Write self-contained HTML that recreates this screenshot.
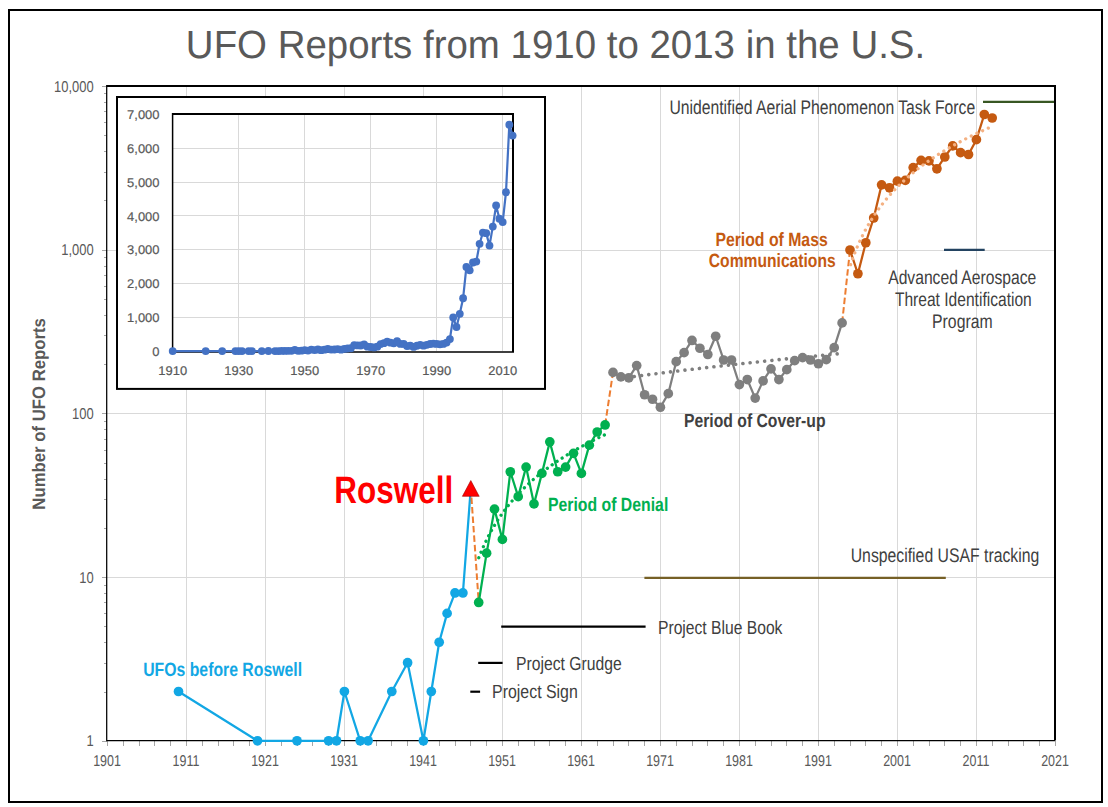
<!DOCTYPE html><html><head><meta charset="utf-8"><style>html,body{margin:0;padding:0;background:#fff;overflow:hidden}svg{display:block}text{font-family:"Liberation Sans",sans-serif;text-rendering:geometricPrecision}</style></head><body>
<svg width="1108" height="807" viewBox="0 0 1108 807">
<rect width="1108" height="807" fill="#fff"/>
<path d="M107,577.5 H1055 M107,413.5 H1055 M107,250.5 H1055 M186.5,86 V740 M265.5,86 V740 M344.5,86 V740 M423.5,86 V740 M502.5,86 V740 M581.5,86 V740 M660.5,86 V740 M739.5,86 V740 M818.5,86 V740 M897.5,86 V740 M976.5,86 V740" stroke="#D9D9D9" stroke-width="1" fill="none"/>
<path d="M102,741.5 H107 M104,692.5 H107 M104,663.5 H107 M104,642.5 H107 M104,626.5 H107 M104,613.5 H107 M104,602.5 H107 M104,593.5 H107 M104,585.5 H107 M102,577.5 H107 M104,528.5 H107 M104,499.5 H107 M104,479.5 H107 M104,463.5 H107 M104,450.5 H107 M104,439.5 H107 M104,429.5 H107 M104,421.5 H107 M102,413.5 H107 M104,364.5 H107 M104,335.5 H107 M104,315.5 H107 M104,299.5 H107 M104,286.5 H107 M104,275.5 H107 M104,266.5 H107 M104,257.5 H107 M102,250.5 H107 M104,200.5 H107 M104,172.5 H107 M104,151.5 H107 M104,135.5 H107 M104,122.5 H107 M104,111.5 H107 M104,102.5 H107 M104,93.5 H107 M102,86.5 H107 M107.5,741 V746 M123.5,741 V746 M139.5,741 V746 M154.5,741 V746 M170.5,741 V746 M186.5,741 V746 M202.5,741 V746 M218.5,741 V746 M233.5,741 V746 M249.5,741 V746 M265.5,741 V746 M281.5,741 V746 M297.5,741 V746 M312.5,741 V746 M328.5,741 V746 M344.5,741 V746 M360.5,741 V746 M376.5,741 V746 M391.5,741 V746 M407.5,741 V746 M423.5,741 V746 M439.5,741 V746 M455.5,741 V746 M470.5,741 V746 M486.5,741 V746 M502.5,741 V746 M518.5,741 V746 M534.5,741 V746 M549.5,741 V746 M565.5,741 V746 M581.5,741 V746 M597.5,741 V746 M613.5,741 V746 M628.5,741 V746 M644.5,741 V746 M660.5,741 V746 M676.5,741 V746 M692.5,741 V746 M707.5,741 V746 M723.5,741 V746 M739.5,741 V746 M755.5,741 V746 M771.5,741 V746 M786.5,741 V746 M802.5,741 V746 M818.5,741 V746 M834.5,741 V746 M850.5,741 V746 M865.5,741 V746 M881.5,741 V746 M897.5,741 V746 M913.5,741 V746 M929.5,741 V746 M944.5,741 V746 M960.5,741 V746 M976.5,741 V746 M992.5,741 V746 M1008.5,741 V746 M1023.5,741 V746 M1039.5,741 V746 M1055.5,741 V746" stroke="#A6A6A6" stroke-width="1" fill="none"/>
<path d="M107,86 H1055 V740.5" stroke="#000" stroke-width="2" fill="none"/>
<path d="M106.7,85 V740.5 H1055" stroke="#000" stroke-width="1.25" fill="none"/>
<g font-size="15.6px" fill="#595959"><text transform="translate(93.6,746.4) scale(0.83,1)" text-anchor="end">1</text><text transform="translate(93.6,582.7) scale(0.83,1)" text-anchor="end">10</text><text transform="translate(93.6,419) scale(0.83,1)" text-anchor="end">100</text><text transform="translate(93.6,255.3) scale(0.83,1)" text-anchor="end">1,000</text><text transform="translate(93.6,91.6) scale(0.83,1)" text-anchor="end">10,000</text><text transform="translate(107,765.8) scale(0.80,1)" text-anchor="middle">1901</text><text transform="translate(186,765.8) scale(0.80,1)" text-anchor="middle">1911</text><text transform="translate(265,765.8) scale(0.80,1)" text-anchor="middle">1921</text><text transform="translate(344,765.8) scale(0.80,1)" text-anchor="middle">1931</text><text transform="translate(423,765.8) scale(0.80,1)" text-anchor="middle">1941</text><text transform="translate(502,765.8) scale(0.80,1)" text-anchor="middle">1951</text><text transform="translate(581,765.8) scale(0.80,1)" text-anchor="middle">1961</text><text transform="translate(660,765.8) scale(0.80,1)" text-anchor="middle">1971</text><text transform="translate(739,765.8) scale(0.80,1)" text-anchor="middle">1981</text><text transform="translate(818,765.8) scale(0.80,1)" text-anchor="middle">1991</text><text transform="translate(897,765.8) scale(0.80,1)" text-anchor="middle">2001</text><text transform="translate(976,765.8) scale(0.80,1)" text-anchor="middle">2011</text><text transform="translate(1055,765.8) scale(0.80,1)" text-anchor="middle">2021</text></g>
<g><rect x="117" y="97" width="428" height="291.9" fill="#fff" stroke="#000" stroke-width="2"/><path d="M173,317.5 H513 M173,283.5 H513 M173,249.5 H513 M173,215.5 H513 M173,182.5 H513 M173,148.5 H513 M173,114.5 H513 M238.5,114 V351 M304.5,114 V351 M370.5,114 V351 M436.5,114 V351 M502.5,114 V351" stroke="#D9D9D9" stroke-width="1" fill="none"/><path d="M172.5,114 H513 V352" stroke="#000" stroke-width="2" fill="none"/><path d="M172.6,113 V352 H514" stroke="#000" stroke-width="1.5" fill="none"/><g font-size="12.7px" fill="#595959" stroke="#595959" stroke-width="0.2"><text transform="translate(159.5,355.8) scale(1.02,1)" text-anchor="end">0</text><text transform="translate(159.5,322) scale(1.02,1)" text-anchor="end">1,000</text><text transform="translate(159.5,288.2) scale(1.02,1)" text-anchor="end">2,000</text><text transform="translate(159.5,254.4) scale(1.02,1)" text-anchor="end">3,000</text><text transform="translate(159.5,220.6) scale(1.02,1)" text-anchor="end">4,000</text><text transform="translate(159.5,186.8) scale(1.02,1)" text-anchor="end">5,000</text><text transform="translate(159.5,153) scale(1.02,1)" text-anchor="end">6,000</text><text transform="translate(159.5,119.2) scale(1.02,1)" text-anchor="end">7,000</text><text transform="translate(172.7,375) scale(1.02,1)" text-anchor="middle">1910</text><text transform="translate(238.7,375) scale(1.02,1)" text-anchor="middle">1930</text><text transform="translate(304.7,375) scale(1.02,1)" text-anchor="middle">1950</text><text transform="translate(370.7,375) scale(1.02,1)" text-anchor="middle">1970</text><text transform="translate(436.7,375) scale(1.02,1)" text-anchor="middle">1990</text><text transform="translate(502.7,375) scale(1.02,1)" text-anchor="middle">2010</text></g><polyline points="172.7,351.03 205.7,351.07 222.2,351.07 235.4,351.07 238.7,351.07 242,351.03 248.6,351.07 251.9,351.07 261.8,351.03 268.4,351 275,351.07 278.3,351.03 281.6,350.96 284.9,350.9 288.2,350.83 291.5,350.83 294.8,349.92 298.1,350.86 301.4,350.63 304.7,350.22 308,350.53 311.3,349.61 314.6,350.05 317.9,349.51 321.2,350.15 324.5,349.65 327.8,348.84 331.1,349.61 334.4,349.51 337.7,349.17 341,349.65 344.3,348.94 347.6,348.5 350.9,348.23 354.2,345.08 357.5,345.46 360.8,345.52 364.1,344.48 367.4,346.71 370.7,346.98 374,347.42 377.3,346.64 380.6,344.1 383.9,343.16 387.2,341.67 390.5,342.65 393.8,343.36 397.1,341.1 400.4,343.93 403.7,343.93 407,346.03 410.3,345.66 413.6,346.91 416.9,345.76 420.2,344.78 423.5,345.66 426.8,344.85 430.1,344 433.4,343.7 436.7,343.93 440,344.31 443.3,343.9 446.6,342.58 449.9,339.03 453.2,317.44 456.5,327 459.8,313.82 463.1,298.27 466.4,266.97 469.7,270.35 473,262.48 476.3,261.53 479.6,243.79 482.9,232.53 486.2,233.14 489.5,245.61 492.8,226.58 496.1,205.52 499.4,218.77 502.7,222.12 506,192.24 509.3,124.71 512.6,135.59" fill="none" stroke="#4472C4" stroke-width="2.2" stroke-linejoin="round"/><g fill="#4472C4"><circle cx="172.7" cy="351.03" r="3.9"/><circle cx="205.7" cy="351.07" r="3.9"/><circle cx="222.2" cy="351.07" r="3.9"/><circle cx="235.4" cy="351.07" r="3.9"/><circle cx="238.7" cy="351.07" r="3.9"/><circle cx="242" cy="351.03" r="3.9"/><circle cx="248.6" cy="351.07" r="3.9"/><circle cx="251.9" cy="351.07" r="3.9"/><circle cx="261.8" cy="351.03" r="3.9"/><circle cx="268.4" cy="351" r="3.9"/><circle cx="275" cy="351.07" r="3.9"/><circle cx="278.3" cy="351.03" r="3.9"/><circle cx="281.6" cy="350.96" r="3.9"/><circle cx="284.9" cy="350.9" r="3.9"/><circle cx="288.2" cy="350.83" r="3.9"/><circle cx="291.5" cy="350.83" r="3.9"/><circle cx="294.8" cy="349.92" r="3.9"/><circle cx="298.1" cy="350.86" r="3.9"/><circle cx="301.4" cy="350.63" r="3.9"/><circle cx="304.7" cy="350.22" r="3.9"/><circle cx="308" cy="350.53" r="3.9"/><circle cx="311.3" cy="349.61" r="3.9"/><circle cx="314.6" cy="350.05" r="3.9"/><circle cx="317.9" cy="349.51" r="3.9"/><circle cx="321.2" cy="350.15" r="3.9"/><circle cx="324.5" cy="349.65" r="3.9"/><circle cx="327.8" cy="348.84" r="3.9"/><circle cx="331.1" cy="349.61" r="3.9"/><circle cx="334.4" cy="349.51" r="3.9"/><circle cx="337.7" cy="349.17" r="3.9"/><circle cx="341" cy="349.65" r="3.9"/><circle cx="344.3" cy="348.94" r="3.9"/><circle cx="347.6" cy="348.5" r="3.9"/><circle cx="350.9" cy="348.23" r="3.9"/><circle cx="354.2" cy="345.08" r="3.9"/><circle cx="357.5" cy="345.46" r="3.9"/><circle cx="360.8" cy="345.52" r="3.9"/><circle cx="364.1" cy="344.48" r="3.9"/><circle cx="367.4" cy="346.71" r="3.9"/><circle cx="370.7" cy="346.98" r="3.9"/><circle cx="374" cy="347.42" r="3.9"/><circle cx="377.3" cy="346.64" r="3.9"/><circle cx="380.6" cy="344.1" r="3.9"/><circle cx="383.9" cy="343.16" r="3.9"/><circle cx="387.2" cy="341.67" r="3.9"/><circle cx="390.5" cy="342.65" r="3.9"/><circle cx="393.8" cy="343.36" r="3.9"/><circle cx="397.1" cy="341.1" r="3.9"/><circle cx="400.4" cy="343.93" r="3.9"/><circle cx="403.7" cy="343.93" r="3.9"/><circle cx="407" cy="346.03" r="3.9"/><circle cx="410.3" cy="345.66" r="3.9"/><circle cx="413.6" cy="346.91" r="3.9"/><circle cx="416.9" cy="345.76" r="3.9"/><circle cx="420.2" cy="344.78" r="3.9"/><circle cx="423.5" cy="345.66" r="3.9"/><circle cx="426.8" cy="344.85" r="3.9"/><circle cx="430.1" cy="344" r="3.9"/><circle cx="433.4" cy="343.7" r="3.9"/><circle cx="436.7" cy="343.93" r="3.9"/><circle cx="440" cy="344.31" r="3.9"/><circle cx="443.3" cy="343.9" r="3.9"/><circle cx="446.6" cy="342.58" r="3.9"/><circle cx="449.9" cy="339.03" r="3.9"/><circle cx="453.2" cy="317.44" r="3.9"/><circle cx="456.5" cy="327" r="3.9"/><circle cx="459.8" cy="313.82" r="3.9"/><circle cx="463.1" cy="298.27" r="3.9"/><circle cx="466.4" cy="266.97" r="3.9"/><circle cx="469.7" cy="270.35" r="3.9"/><circle cx="473" cy="262.48" r="3.9"/><circle cx="476.3" cy="261.53" r="3.9"/><circle cx="479.6" cy="243.79" r="3.9"/><circle cx="482.9" cy="232.53" r="3.9"/><circle cx="486.2" cy="233.14" r="3.9"/><circle cx="489.5" cy="245.61" r="3.9"/><circle cx="492.8" cy="226.58" r="3.9"/><circle cx="496.1" cy="205.52" r="3.9"/><circle cx="499.4" cy="218.77" r="3.9"/><circle cx="502.7" cy="222.12" r="3.9"/><circle cx="506" cy="192.24" r="3.9"/><circle cx="509.3" cy="124.71" r="3.9"/><circle cx="512.6" cy="135.59" r="3.9"/></g></g>
<polyline points="178.5,691.52 257.5,740.8 297,740.8 328.6,740.8 336.5,740.8 344.4,691.52 360.2,740.8 368.1,740.8 391.8,691.52 407.6,662.7 423.4,740.8 431.3,691.52 439.2,642.24 447.1,613.42 455,592.96 462.9,592.96 470.8,488.04" fill="none" stroke="#12A7E4" stroke-width="2.25" stroke-linejoin="round"/><g fill="#12A7E4"><circle cx="178.5" cy="691.52" r="4.85"/><circle cx="257.5" cy="740.8" r="4.85"/><circle cx="297" cy="740.8" r="4.85"/><circle cx="328.6" cy="740.8" r="4.85"/><circle cx="336.5" cy="740.8" r="4.85"/><circle cx="344.4" cy="691.52" r="4.85"/><circle cx="360.2" cy="740.8" r="4.85"/><circle cx="368.1" cy="740.8" r="4.85"/><circle cx="391.8" cy="691.52" r="4.85"/><circle cx="407.6" cy="662.7" r="4.85"/><circle cx="423.4" cy="740.8" r="4.85"/><circle cx="431.3" cy="691.52" r="4.85"/><circle cx="439.2" cy="642.24" r="4.85"/><circle cx="447.1" cy="613.42" r="4.85"/><circle cx="455" cy="592.96" r="4.85"/><circle cx="462.9" cy="592.96" r="4.85"/></g><path d="M470.8,488.04 L478.7,602.46" stroke="#ED7D31" stroke-width="2" stroke-dasharray="6.5 3" fill="none"/><path d="M605.1,424.95 L613,372.41" stroke="#ED7D31" stroke-width="2" stroke-dasharray="6.5 3" fill="none"/><path d="M842.1,322.93 L850,249.98" stroke="#ED7D31" stroke-width="2" stroke-dasharray="6.5 3" fill="none"/><polyline points="478.7,602.46 486.6,553.18 494.5,509.17 502.4,539.38 510.3,471.77 518.2,496.66 526.1,467.08 534,503.9 541.9,473.4 549.8,441.87 557.7,471.77 565.6,467.08 573.5,453.36 581.4,473.4 589.3,445.13 597.2,431.98 605.1,424.95" fill="none" stroke="#00B050" stroke-width="2.25" stroke-linejoin="round"/><g fill="#00B050"><circle cx="478.7" cy="602.46" r="4.85"/><circle cx="486.6" cy="553.18" r="4.85"/><circle cx="494.5" cy="509.17" r="4.85"/><circle cx="502.4" cy="539.38" r="4.85"/><circle cx="510.3" cy="471.77" r="4.85"/><circle cx="518.2" cy="496.66" r="4.85"/><circle cx="526.1" cy="467.08" r="4.85"/><circle cx="534" cy="503.9" r="4.85"/><circle cx="541.9" cy="473.4" r="4.85"/><circle cx="549.8" cy="441.87" r="4.85"/><circle cx="557.7" cy="471.77" r="4.85"/><circle cx="565.6" cy="467.08" r="4.85"/><circle cx="573.5" cy="453.36" r="4.85"/><circle cx="581.4" cy="473.4" r="4.85"/><circle cx="589.3" cy="445.13" r="4.85"/><circle cx="597.2" cy="431.98" r="4.85"/><circle cx="605.1" cy="424.95" r="4.85"/></g><polyline points="478.7,558.02 479.49,555.96 480.29,553.97 481.08,552.02 481.88,550.13 482.67,548.29 483.47,546.49 484.26,544.74 485.06,543.03 485.85,541.36 486.65,539.73 487.44,538.13 488.24,536.57 489.03,535.05 489.83,533.55 490.62,532.09 491.42,530.65 492.21,529.25 493.01,527.87 493.8,526.52 494.6,525.19 495.39,523.89 496.19,522.61 496.98,521.35 497.78,520.12 498.57,518.9 499.37,517.71 500.16,516.54 500.96,515.38 501.75,514.25 502.55,513.13 503.34,512.03 504.14,510.94 504.93,509.88 505.73,508.82 506.52,507.79 507.32,506.76 508.11,505.76 508.91,504.76 509.7,503.78 510.5,502.82 511.29,501.87 512.09,500.92 512.88,500 513.68,499.08 514.47,498.17 515.27,497.28 516.06,496.4 516.86,495.53 517.65,494.67 518.45,493.82 519.24,492.98 520.04,492.14 520.83,491.32 521.63,490.51 522.42,489.71 523.22,488.92 524.01,488.13 524.81,487.35 525.6,486.59 526.4,485.83 527.19,485.08 527.99,484.33 528.78,483.6 529.58,482.87 530.37,482.15 531.17,481.43 531.96,480.72 532.76,480.02 533.55,479.33 534.35,478.65 535.14,477.97 535.94,477.29 536.73,476.62 537.53,475.96 538.32,475.31 539.12,474.66 539.91,474.02 540.71,473.38 541.5,472.75 542.3,472.12 543.09,471.5 543.89,470.89 544.68,470.28 545.48,469.67 546.27,469.07 547.07,468.48 547.86,467.89 548.66,467.3 549.45,466.72 550.25,466.15 551.04,465.58 551.84,465.01 552.63,464.45 553.43,463.89 554.22,463.34 555.02,462.79 555.81,462.25 556.61,461.71 557.4,461.17 558.2,460.64 558.99,460.11 559.79,459.59 560.58,459.07 561.38,458.55 562.17,458.04 562.97,457.53 563.76,457.02 564.56,456.52 565.35,456.02 566.15,455.52 566.94,455.03 567.74,454.54 568.53,454.06 569.33,453.58 570.12,453.1 570.92,452.62 571.71,452.15 572.51,451.68 573.3,451.22 574.1,450.75 574.89,450.29 575.69,449.84 576.48,449.38 577.28,448.93 578.07,448.48 578.87,448.04 579.66,447.6 580.46,447.16 581.25,446.72 582.05,446.28 582.84,445.85 583.64,445.42 584.43,445 585.23,444.57 586.02,444.15 586.82,443.73 587.61,443.31 588.41,442.9 589.2,442.49 590,442.08 590.79,441.67 591.59,441.27 592.38,440.86 593.18,440.46 593.97,440.06 594.77,439.67 595.56,439.27 596.36,438.88 597.15,438.49 597.95,438.11 598.74,437.72 599.54,437.34 600.33,436.96 601.13,436.58 601.92,436.2 602.72,435.83 603.51,435.45 604.31,435.08 605.1,434.71" fill="none" stroke="#00B050" stroke-width="3.3" stroke-linecap="round" stroke-dasharray="0.01 6.005" stroke-dashoffset="-0.27"/><polyline points="613,372.41 620.9,376.94 628.8,377.8 636.7,365.56 644.6,394.75 652.5,399.26 660.4,407.27 668.3,393.66 676.2,361.68 684.1,352.66 692,340.45 699.9,348.26 707.8,354.49 715.7,336.25 723.6,359.98 731.5,359.98 739.4,384.57 747.3,379.54 755.2,398.11 763.1,380.88 771,368.9 778.9,379.54 786.8,369.66 794.7,360.65 802.6,357.67 810.5,359.98 818.4,363.77 826.3,359.64 834.2,347.69 842.1,322.93" fill="none" stroke="#7F7F7F" stroke-width="2.25" stroke-linejoin="round"/><g fill="#7F7F7F"><circle cx="613" cy="372.41" r="4.85"/><circle cx="620.9" cy="376.94" r="4.85"/><circle cx="628.8" cy="377.8" r="4.85"/><circle cx="636.7" cy="365.56" r="4.85"/><circle cx="644.6" cy="394.75" r="4.85"/><circle cx="652.5" cy="399.26" r="4.85"/><circle cx="660.4" cy="407.27" r="4.85"/><circle cx="668.3" cy="393.66" r="4.85"/><circle cx="676.2" cy="361.68" r="4.85"/><circle cx="684.1" cy="352.66" r="4.85"/><circle cx="692" cy="340.45" r="4.85"/><circle cx="699.9" cy="348.26" r="4.85"/><circle cx="707.8" cy="354.49" r="4.85"/><circle cx="715.7" cy="336.25" r="4.85"/><circle cx="723.6" cy="359.98" r="4.85"/><circle cx="731.5" cy="359.98" r="4.85"/><circle cx="739.4" cy="384.57" r="4.85"/><circle cx="747.3" cy="379.54" r="4.85"/><circle cx="755.2" cy="398.11" r="4.85"/><circle cx="763.1" cy="380.88" r="4.85"/><circle cx="771" cy="368.9" r="4.85"/><circle cx="778.9" cy="379.54" r="4.85"/><circle cx="786.8" cy="369.66" r="4.85"/><circle cx="794.7" cy="360.65" r="4.85"/><circle cx="802.6" cy="357.67" r="4.85"/><circle cx="810.5" cy="359.98" r="4.85"/><circle cx="818.4" cy="363.77" r="4.85"/><circle cx="826.3" cy="359.64" r="4.85"/><circle cx="834.2" cy="347.69" r="4.85"/><circle cx="842.1" cy="322.93" r="4.85"/></g><polyline points="613,379.33 614.44,379.14 615.88,378.94 617.32,378.75 618.76,378.55 620.2,378.36 621.65,378.16 623.09,377.97 624.53,377.78 625.97,377.59 627.41,377.39 628.85,377.2 630.29,377.01 631.73,376.82 633.17,376.63 634.61,376.44 636.05,376.26 637.49,376.07 638.94,375.88 640.38,375.69 641.82,375.51 643.26,375.32 644.7,375.14 646.14,374.95 647.58,374.77 649.02,374.58 650.46,374.4 651.9,374.22 653.34,374.03 654.79,373.85 656.23,373.67 657.67,373.49 659.11,373.31 660.55,373.13 661.99,372.95 663.43,372.77 664.87,372.59 666.31,372.41 667.75,372.23 669.19,372.05 670.64,371.88 672.08,371.7 673.52,371.52 674.96,371.35 676.4,371.17 677.84,371 679.28,370.82 680.72,370.65 682.16,370.47 683.6,370.3 685.04,370.13 686.48,369.96 687.93,369.78 689.37,369.61 690.81,369.44 692.25,369.27 693.69,369.1 695.13,368.93 696.57,368.76 698.01,368.59 699.45,368.42 700.89,368.25 702.33,368.09 703.78,367.92 705.22,367.75 706.66,367.58 708.1,367.42 709.54,367.25 710.98,367.09 712.42,366.92 713.86,366.76 715.3,366.59 716.74,366.43 718.18,366.26 719.63,366.1 721.07,365.94 722.51,365.77 723.95,365.61 725.39,365.45 726.83,365.29 728.27,365.13 729.71,364.97 731.15,364.81 732.59,364.65 734.03,364.49 735.47,364.33 736.92,364.17 738.36,364.01 739.8,363.85 741.24,363.69 742.68,363.54 744.12,363.38 745.56,363.22 747,363.07 748.44,362.91 749.88,362.75 751.32,362.6 752.77,362.44 754.21,362.29 755.65,362.13 757.09,361.98 758.53,361.83 759.97,361.67 761.41,361.52 762.85,361.37 764.29,361.21 765.73,361.06 767.17,360.91 768.62,360.76 770.06,360.61 771.5,360.46 772.94,360.3 774.38,360.15 775.82,360 777.26,359.86 778.7,359.71 780.14,359.56 781.58,359.41 783.02,359.26 784.46,359.11 785.91,358.96 787.35,358.82 788.79,358.67 790.23,358.52 791.67,358.38 793.11,358.23 794.55,358.08 795.99,357.94 797.43,357.79 798.87,357.65 800.31,357.5 801.76,357.36 803.2,357.21 804.64,357.07 806.08,356.93 807.52,356.78 808.96,356.64 810.4,356.5 811.84,356.36 813.28,356.21 814.72,356.07 816.16,355.93 817.61,355.79 819.05,355.65 820.49,355.51 821.93,355.37 823.37,355.23 824.81,355.09 826.25,354.95 827.69,354.81 829.13,354.67 830.57,354.53 832.01,354.39 833.45,354.25 834.9,354.11 836.34,353.98 837.78,353.84 839.22,353.7 840.66,353.57 842.1,353.43" fill="none" stroke="#7F7F7F" stroke-width="3.6" stroke-linecap="round" stroke-dasharray="0.01 7.28" stroke-dashoffset="-6.92"/><polyline points="850,249.98 857.9,273.75 865.8,242.73 873.7,217.95 881.6,184.87 889.5,187.79 897.4,181.17 905.3,180.41 913.2,167.56 921.1,160.47 929,160.84 936.9,168.78 944.8,156.99 952.7,145.89 960.6,152.67 968.5,154.49 976.4,139.68 984.3,114.49 992.2,118" fill="none" stroke="#C55A11" stroke-width="2.25" stroke-linejoin="round"/><g fill="#C55A11"><circle cx="850" cy="249.98" r="4.85"/><circle cx="857.9" cy="273.75" r="4.85"/><circle cx="865.8" cy="242.73" r="4.85"/><circle cx="873.7" cy="217.95" r="4.85"/><circle cx="881.6" cy="184.87" r="4.85"/><circle cx="889.5" cy="187.79" r="4.85"/><circle cx="897.4" cy="181.17" r="4.85"/><circle cx="905.3" cy="180.41" r="4.85"/><circle cx="913.2" cy="167.56" r="4.85"/><circle cx="921.1" cy="160.47" r="4.85"/><circle cx="929" cy="160.84" r="4.85"/><circle cx="936.9" cy="168.78" r="4.85"/><circle cx="944.8" cy="156.99" r="4.85"/><circle cx="952.7" cy="145.89" r="4.85"/><circle cx="960.6" cy="152.67" r="4.85"/><circle cx="968.5" cy="154.49" r="4.85"/><circle cx="976.4" cy="139.68" r="4.85"/><circle cx="984.3" cy="114.49" r="4.85"/><circle cx="992.2" cy="118" r="4.85"/></g><polyline points="850,266.31 850.89,263.61 851.79,261.01 852.68,258.5 853.58,256.07 854.47,253.73 855.37,251.46 856.26,249.26 857.15,247.13 858.05,245.06 858.94,243.05 859.84,241.09 860.73,239.19 861.63,237.34 862.52,235.53 863.42,233.77 864.31,232.05 865.2,230.37 866.1,228.73 866.99,227.12 867.89,225.56 868.78,224.02 869.68,222.52 870.57,221.05 871.46,219.61 872.36,218.2 873.25,216.81 874.15,215.45 875.04,214.12 875.94,212.81 876.83,211.53 877.72,210.27 878.62,209.03 879.51,207.81 880.41,206.61 881.3,205.43 882.2,204.27 883.09,203.13 883.98,202.01 884.88,200.91 885.77,199.82 886.67,198.75 887.56,197.69 888.46,196.65 889.35,195.62 890.25,194.61 891.14,193.62 892.03,192.63 892.93,191.67 893.82,190.71 894.72,189.77 895.61,188.83 896.51,187.91 897.4,187.01 898.29,186.11 899.19,185.23 900.08,184.35 900.98,183.49 901.87,182.64 902.77,181.79 903.66,180.96 904.55,180.14 905.45,179.32 906.34,178.52 907.24,177.72 908.13,176.94 909.03,176.16 909.92,175.39 910.82,174.63 911.71,173.87 912.6,173.13 913.5,172.39 914.39,171.66 915.29,170.94 916.18,170.22 917.08,169.51 917.97,168.81 918.86,168.11 919.76,167.43 920.65,166.75 921.55,166.07 922.44,165.4 923.34,164.74 924.23,164.08 925.12,163.43 926.02,162.79 926.91,162.15 927.81,161.52 928.7,160.89 929.6,160.27 930.49,159.65 931.38,159.04 932.28,158.44 933.17,157.83 934.07,157.24 934.96,156.65 935.86,156.06 936.75,155.48 937.65,154.9 938.54,154.33 939.43,153.77 940.33,153.2 941.22,152.64 942.12,152.09 943.01,151.54 943.91,151 944.8,150.45 945.69,149.92 946.59,149.38 947.48,148.86 948.38,148.33 949.27,147.81 950.17,147.29 951.06,146.78 951.95,146.27 952.85,145.76 953.74,145.26 954.64,144.76 955.53,144.26 956.43,143.77 957.32,143.28 958.22,142.79 959.11,142.31 960,141.83 960.9,141.36 961.79,140.88 962.69,140.41 963.58,139.95 964.48,139.48 965.37,139.02 966.26,138.57 967.16,138.11 968.05,137.66 968.95,137.21 969.84,136.76 970.74,136.32 971.63,135.88 972.52,135.44 973.42,135.01 974.31,134.57 975.21,134.14 976.1,133.72 977,133.29 977.89,132.87 978.78,132.45 979.68,132.03 980.57,131.62 981.47,131.2 982.36,130.79 983.26,130.39 984.15,129.98 985.05,129.58 985.94,129.18 986.83,128.78 987.73,128.38 988.62,127.99 989.52,127.6 990.41,127.21 991.31,126.82 992.2,126.43" fill="none" stroke="#F4B183" stroke-width="3.3" stroke-linecap="round" stroke-dasharray="0.01 6.255" stroke-dashoffset="-1.76"/><path d="M470.8,480.54 L479.2,496.34 L462.4,496.34 Z" fill="#FF0000" stroke="#A00000" stroke-width="0.6" stroke-linejoin="miter"/>
<path d="M983,101.9 H1054" stroke="#385723" stroke-width="2.2"/>
<path d="M944,249.9 H984.7" stroke="#234361" stroke-width="2.2"/>
<path d="M644.4,577.85 H945.8" stroke="#766026" stroke-width="2.2"/>
<path d="M501.2,626.7 H645.6" stroke="#000" stroke-width="2.2"/>
<path d="M478.2,662.9 H502.6" stroke="#000" stroke-width="2.2"/>
<path d="M470.3,691.7 H480.1" stroke="#000" stroke-width="2.2"/>
<text transform="translate(185.87,57.9) scale(0.9759,1)" font-size="39.4px" font-weight="normal" fill="#595959">UFO Reports from 1910 to 2013 in the U.S.</text>
<text transform="translate(669.4,113.6) scale(0.7953,1)" font-size="19.8px" font-weight="normal" fill="#404040">Unidentified Aerial Phenomenon Task Force</text>
<text transform="translate(715.38,245.6) scale(0.8230,1)" font-size="19.2px" font-weight="bold" fill="#C55A11">Period of Mass</text>
<text transform="translate(708.8,267.2) scale(0.8148,1)" font-size="19.2px" font-weight="bold" fill="#C55A11">Communications</text>
<text transform="translate(888.2,283.9) scale(0.7995,1)" font-size="19.6px" font-weight="normal" fill="#404040">Advanced Aerospace</text>
<text transform="translate(894.9,305.8) scale(0.7953,1)" font-size="19.6px" font-weight="normal" fill="#404040">Threat Identification</text>
<text transform="translate(932.09,327.6) scale(0.8055,1)" font-size="19.6px" font-weight="normal" fill="#404040">Program</text>
<text transform="translate(683.97,427.4) scale(0.8276,1)" font-size="19px" font-weight="bold" fill="#404040">Period of Cover-up</text>
<text transform="translate(334.35,502.8) scale(0.8273,1)" font-size="38px" font-weight="bold" fill="#FF0000">Roswell</text>
<text transform="translate(547.98,510.5) scale(0.8236,1)" font-size="19.2px" font-weight="bold" fill="#00B050">Period of Denial</text>
<text transform="translate(850.7,561.9) scale(0.7979,1)" font-size="19.8px" font-weight="normal" fill="#404040">Unspecified USAF tracking</text>
<text transform="translate(657.98,633.7) scale(0.8240,1)" font-size="19px" font-weight="normal" fill="#404040">Project Blue Book</text>
<text transform="translate(516.07,669.6) scale(0.8270,1)" font-size="19px" font-weight="normal" fill="#404040">Project Grudge</text>
<text transform="translate(492.06,698.4) scale(0.8370,1)" font-size="19px" font-weight="normal" fill="#404040">Project Sign</text>
<text transform="translate(143.19,675.5) scale(0.8145,1)" font-size="19.4px" font-weight="bold" fill="#12A7E4">UFOs before Roswell</text>
<text transform="translate(45,509.63) rotate(-90) scale(0.9298,1)" font-size="18px" font-weight="bold" fill="#595959">Number of UFO Reports</text>
<rect x="9" y="10" width="1093" height="792" fill="none" stroke="#000" stroke-width="2"/>
</svg></body></html>
